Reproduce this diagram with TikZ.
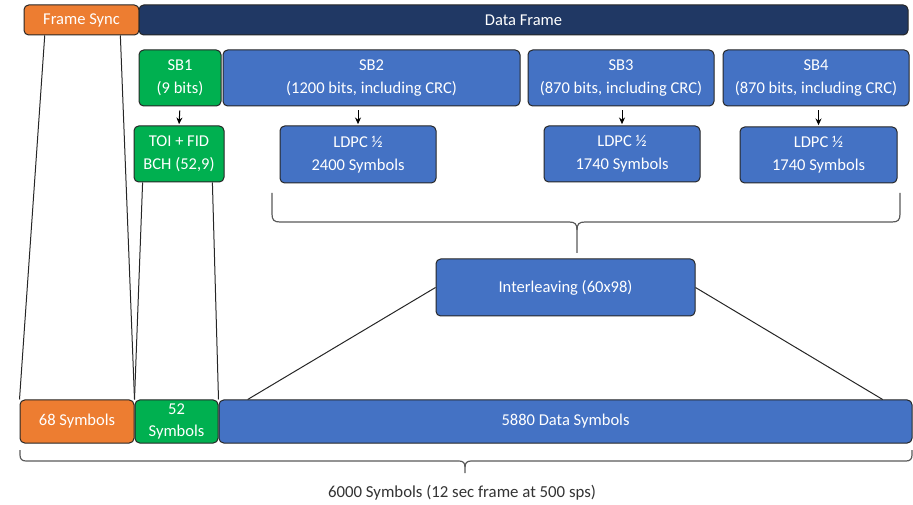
\documentclass[tikz,border=0pt]{standalone}
\usepackage{fontspec}
\setmainfont{Carlito}
\usetikzlibrary{calc,arrows.meta}

\definecolor{syncorange}{RGB}{237,125,49}
\definecolor{framenavy}{RGB}{32,56,100}
\definecolor{sbgreen}{RGB}{0,176,80}
\definecolor{sbblue}{RGB}{68,114,196}

\tikzset{every picture/.style={line width=0.75pt}}
\tikzset{
  blk/.style={draw=black!85, rounded corners=3.5pt, text=white, align=center,
    inner sep=0pt, font=\fontsize{12.4}{17.3}\selectfont},
  orangeblk/.style={blk, fill=syncorange},
  navyblk/.style={blk, fill=framenavy},
  greenblk/.style={blk, fill=sbgreen},
  blueblk/.style={blk, fill=sbblue},
  flow/.style={-{Stealth[length=5pt,width=4.5pt]}, shorten <=3pt, shorten >=1pt},
  fan/.style={draw=black!85, line width=0.75pt},
  bracket/.style={draw=black!65, line width=0.9pt}
}

\begin{document}
\begin{tikzpicture}[x=0.75pt,y=0.75pt,yscale=-1,xscale=1]
	\useasboundingbox (0,0) rectangle (913,505);

	%Shape: Rectangle [id:fsync] 
	\node[orangeblk, minimum width=86.25pt, minimum height=22.5pt] (fsync) at (81.5,20) {Frame Sync};
	%Shape: Rectangle [id:dframe] 
	\node[navyblk, minimum width=576.75pt, minimum height=22.5pt] (dframe) at (523.5,20) {Data Frame};

	%Shape: Rectangle [id:sb1] 
	\node[greenblk, minimum width=61.5pt, minimum height=42pt] (sb1) at (180,78) {SB1\\(9 bits)};
	%Shape: Rectangle [id:sb2] 
	\node[blueblk, minimum width=222.75pt, minimum height=42pt] (sb2) at (371.5,78) {SB2\\(1200 bits, including CRC)};
	%Shape: Rectangle [id:sb3] 
	\node[blueblk, minimum width=139.5pt, minimum height=42pt] (sb3) at (621,78) {SB3\\(870 bits, including CRC)};
	%Shape: Rectangle [id:sb4] 
	\node[blueblk, minimum width=139.5pt, minimum height=42pt] (sb4) at (816,78) {SB4\\(870 bits, including CRC)};

	%Shape: Rectangle [id:toi] 
	\node[greenblk, minimum width=67.5pt, minimum height=42pt] (toi) at (179,154) {TOI + FID\\BCH (52,9)};
	%Shape: Rectangle [id:ldpc2] 
	\node[blueblk, minimum width=117pt, minimum height=42.75pt] (ldpc2) at (358,154.5) {LDPC ½\\2400 Symbols};
	%Shape: Rectangle [id:ldpc3] 
	\node[blueblk, minimum width=117pt, minimum height=42pt] (ldpc3) at (622,154) {LDPC ½\\1740 Symbols};
	%Shape: Rectangle [id:ldpc4] 
	\node[blueblk, minimum width=117.75pt, minimum height=42pt] (ldpc4) at (818.5,155) {LDPC ½\\1740 Symbols};

	%Shape: Rectangle [id:inter] 
	\node[blueblk, minimum width=194.25pt, minimum height=42.75pt] (inter) at (565.5,287.5) {Interleaving (60x98)};

	%Shape: Rectangle [id:sym68] 
	\node[orangeblk, minimum width=85.5pt, minimum height=32.25pt] (sym68) at (77,421.5) {68 Symbols};
	%Shape: Rectangle [id:sym52] 
	\node[greenblk, minimum width=62.25pt, minimum height=32.25pt, font=\fontsize{12.4}{16.5}\selectfont] (sym52) at (176.5,421.5) {52\\Symbols};
	%Shape: Rectangle [id:data] 
	\node[blueblk, minimum width=519.75pt, minimum height=32.25pt] (data) at (565.5,421.5) {5880 Data Symbols};

	%Straight Lines [id:arrows] 
	\draw[flow] (sb1.south) -- (toi.north);
	\draw[flow] (sb2.south -| ldpc2.north) -- (ldpc2.north);
	\draw[flow] (sb3.south -| ldpc3.north) -- (ldpc3.north);
	\draw[flow] (sb4.south -| ldpc4.north) -- (ldpc4.north);

	%Straight Lines [id:fanlines] 
	\coordinate (fsL) at ($(fsync.south west)!0.183!(fsync.south east)$);
	\coordinate (fsR) at ($(fsync.south west)!0.835!(fsync.south east)$);
	\coordinate (toiL) at ($(toi.south west)!0.1!(toi.south east)$);
	\coordinate (toiR) at ($(toi.south west)!0.867!(toi.south east)$);
	\coordinate (dataL) at ($(data.north west)!0.042!(data.north east)$);
	\coordinate (dataR) at ($(data.north west)!0.957!(data.north east)$);
	\draw[fan] (fsL) -- (sym68.north west);
	\draw[fan] (fsR) -- (sym68.north east);
	\draw[fan] (toiL) -- (sym52.north west);
	\draw[fan] (toiR) -- (data.north west);
	\draw[fan] (inter.west) -- (dataL);
	\draw[fan] (inter.east) -- (dataR);

	%Shape: Brace [id:topbrace] 
	\draw[bracket] (272,193) -- (272,214) .. controls (272,220) and (274,222) .. (280,222) -- (569,222) .. controls (575,222) and (577,224) .. (577,230) -- (577,253);
	\draw[bracket] (577,230) .. controls (577,224) and (579,222) .. (585,222) -- (892,222) .. controls (898,222) and (900,220) .. (900,214) -- (900,193);
	%Shape: Brace [id:bottombrace] 
	\draw[bracket] (20,450) -- (20,455) .. controls (20,459) and (22,461) .. (26,461) -- (459,461) .. controls (463,461) and (465,463) .. (465,467) -- (465,473);
	\draw[bracket] (465,467) .. controls (465,463) and (467,461) .. (471,461) -- (906,461) .. controls (910,461) and (912,459) .. (912,455) -- (912,450);

	% Text Node
	\node[text=black!80, font=\fontsize{12.6}{14}\selectfont] (total) at (462,493) {6000 Symbols (12 sec frame at 500 sps)};

\end{tikzpicture}
\end{document}
